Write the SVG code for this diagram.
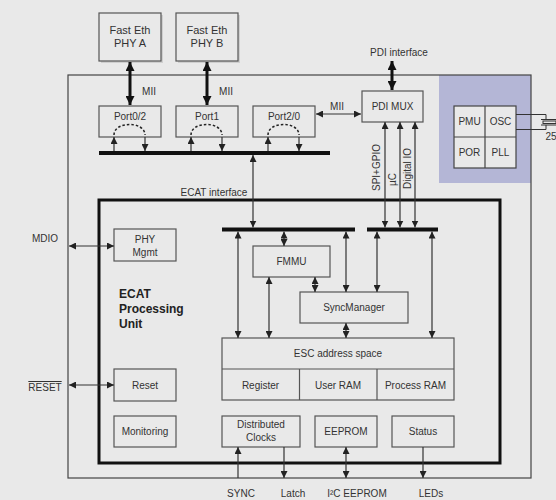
<svg xmlns="http://www.w3.org/2000/svg" width="556" height="500" viewBox="0 0 556 500">
<defs>
<marker id="ah" viewBox="0 0 10 10" refX="10" refY="5" markerWidth="7" markerHeight="7" markerUnits="userSpaceOnUse" orient="auto-start-reverse"><path d="M0,0 L10,5 L0,10 z" fill="#222"/></marker>
<marker id="ahb" viewBox="0 0 10 10" refX="10" refY="5" markerWidth="9" markerHeight="9" markerUnits="userSpaceOnUse" orient="auto-start-reverse"><path d="M0,0 L10,5 L0,10 z" fill="#111"/></marker>
<style>
text{font-family:"Liberation Sans",Arial,sans-serif;font-size:10px;fill:#333;text-anchor:middle}
.big{font-size:11px}
.bold{font-weight:bold;font-size:12px;fill:#222;text-anchor:start}
.box{fill:#e9e9e9;stroke:#555;stroke-width:1.2}
.ln{stroke:#333;stroke-width:1.2;fill:none}
.bi{marker-start:url(#ah);marker-end:url(#ah)}
.one{marker-end:url(#ah)}
.thick{stroke:#111;stroke-width:3;fill:none;marker-start:url(#ahb);marker-end:url(#ahb)}
.bus{stroke:#111;stroke-width:4}
.dash{stroke:#222;stroke-width:1.5;stroke-dasharray:2.5,2;fill:none}
.vt{text-anchor:start}
</style>
</defs>
<rect width="556" height="500" fill="#e9e9e9"/>
<rect x="439" y="75" width="92" height="108" fill="#b4b6d6"/>
<rect id="chip" x="68" y="75" width="463" height="403" fill="none" stroke="#444" stroke-width="1.2"/>
<rect id="ecat" x="99" y="200" width="401" height="263" fill="none" stroke="#111" stroke-width="3"/>

<g id="phyA"><rect x="101" y="15" width="62" height="48" fill="#cfcfcf"/><rect class="box" x="99" y="13" width="62" height="48" fill="#ececec"/><text class="big" x="130" y="34">Fast Eth</text><text class="big" x="130" y="47">PHY A</text></g>
<g id="phyB"><rect x="178" y="15" width="62" height="48" fill="#cfcfcf"/><rect class="box" x="176" y="13" width="62" height="48"/><text class="big" x="207" y="34">Fast Eth</text><text class="big" x="207" y="47">PHY B</text></g>

<g id="port02"><rect class="box" x="99" y="106" width="62" height="31"/><text x="130" y="120">Port0/2</text></g>
<g id="port1"><rect class="box" x="176" y="106" width="62" height="31"/><text x="207" y="120">Port1</text></g>
<g id="port20"><rect class="box" x="253" y="106" width="62" height="31"/><text x="284" y="120">Port2/0</text></g>
<g id="pdimux"><rect class="box" x="362" y="91" width="61" height="31"/><text x="392.5" y="110">PDI MUX</text></g>

<g id="clk"><rect x="454" y="106" width="62" height="62" fill="#e9e9e9" stroke="#444" stroke-width="1.2"/><line x1="485" y1="106" x2="485" y2="168" stroke="#444" stroke-width="1.2"/><line x1="454" y1="137" x2="516" y2="137" stroke="#444" stroke-width="1.2"/><text x="469.5" y="125">PMU</text><text x="500.5" y="125">OSC</text><text x="469.5" y="156">POR</text><text x="500.5" y="156">PLL</text></g>
<g id="xtal" stroke="#333" stroke-width="1" fill="none"><path d="M516,114.5 H546 V119.5"/><path d="M516,129.5 H546 V125"/><line x1="541" y1="119.5" x2="556" y2="119.5"/><line x1="541" y1="125" x2="556" y2="125"/><rect x="543" y="121" width="13" height="2.5"/></g>
<text x="551" y="140" style="text-anchor:middle">25</text>

<g id="phymgmt"><rect class="box" x="114" y="229" width="62" height="32"/><text x="145" y="243">PHY</text><text x="145" y="256">Mgmt</text></g>
<g id="ecatlabel"><text class="bold" x="119" y="298">ECAT</text><text class="bold" x="119" y="313">Processing</text><text class="bold" x="119" y="328">Unit</text></g>
<g id="fmmu"><rect class="box" x="253" y="246" width="77" height="31"/><text x="291.5" y="265">FMMU</text></g>
<g id="syncmgr"><rect class="box" x="300" y="292" width="108" height="31"/><text x="354" y="311">SyncManager</text></g>
<g id="esc"><rect class="box" x="222" y="338" width="232" height="62"/><line x1="222" y1="369" x2="454" y2="369" stroke="#555" stroke-width="1.2"/><line x1="299.5" y1="369" x2="299.5" y2="400" stroke="#555" stroke-width="1.2"/><line x1="377" y1="369" x2="377" y2="400" stroke="#555" stroke-width="1.2"/><text x="338" y="357">ESC address space</text><text x="260.5" y="388.5">Register</text><text x="338" y="388.5">User RAM</text><text x="415.5" y="388.5">Process RAM</text></g>
<g id="reset"><rect class="box" x="114" y="369" width="62" height="32"/><text x="145" y="388.5">Reset</text></g>
<g id="monitoring"><rect class="box" x="114" y="416" width="62" height="31"/><text x="145" y="435">Monitoring</text></g>
<g id="dc"><rect class="box" x="222" y="416" width="78" height="31"/><text x="261" y="428">Distributed</text><text x="261" y="441">Clocks</text></g>
<g id="eeprom"><rect class="box" x="315" y="416" width="62" height="31"/><text x="346" y="435">EEPROM</text></g>
<g id="status"><rect class="box" x="392" y="416" width="62" height="31"/><text x="423" y="435">Status</text></g>

<g id="connectors">
<line class="bus" x1="99" y1="153" x2="330" y2="153"/>
<line class="bus" x1="222" y1="229.5" x2="355" y2="229.5"/>
<line class="bus" x1="367" y1="229.5" x2="438" y2="229.5"/>
<line class="thick" x1="130" y1="62" x2="130" y2="105"/>
<line class="thick" x1="207" y1="62" x2="207" y2="105"/>
<line class="thick" x1="392" y1="61" x2="392" y2="90"/>
<line class="ln bi" x1="316" y1="114" x2="361" y2="114"/>
<line class="ln one" x1="114" y1="151" x2="114" y2="137"/>
<line class="ln one" x1="145" y1="137" x2="145" y2="151"/>
<line class="ln one" x1="191" y1="151" x2="191" y2="137"/>
<line class="ln one" x1="222" y1="137" x2="222" y2="151"/>
<line class="ln one" x1="268" y1="151" x2="268" y2="137"/>
<line class="ln one" x1="299" y1="137" x2="299" y2="151"/>
<path class="dash" d="M114,135 C114,121 145,121 145,135"/>
<path class="dash" d="M191,135 C191,121 222,121 222,135"/>
<path class="dash" d="M268,135 C268,121 299,121 299,135"/>
<line class="ln bi" x1="253" y1="155" x2="253" y2="227.5"/>
<line class="ln bi" x1="385" y1="122" x2="385" y2="227.5"/>
<line class="ln bi" x1="400" y1="122" x2="400" y2="227.5"/>
<line class="ln bi" x1="415" y1="122" x2="415" y2="227.5"/>
<line class="ln bi" x1="69" y1="246" x2="114" y2="246"/>
<line class="ln bi" x1="69" y1="385" x2="114" y2="385"/>
<line class="ln bi" x1="238" y1="231.5" x2="238" y2="338"/>
<line class="ln bi" x1="284" y1="231.5" x2="284" y2="246"/>
<line class="ln bi" x1="269" y1="277" x2="269" y2="338"/>
<line class="ln bi" x1="315" y1="277" x2="315" y2="292"/>
<line class="ln bi" x1="346" y1="231.5" x2="346" y2="292"/>
<line class="ln bi" x1="377" y1="231.5" x2="377" y2="292"/>
<line class="ln bi" x1="346" y1="323" x2="346" y2="338"/>
<line class="ln bi" x1="432" y1="231.5" x2="432" y2="338"/>
<line class="ln one" x1="238" y1="478" x2="238" y2="447"/>
<line class="ln one" x1="284" y1="447" x2="284" y2="478"/>
<line class="ln bi" x1="346" y1="447" x2="346" y2="478"/>
<line class="ln one" x1="423" y1="447" x2="423" y2="478"/>
</g>

<g id="labels">
<text x="399" y="55.5">PDI interface</text>
<text x="149" y="95">MII</text>
<text x="226" y="95">MII</text>
<text x="337" y="109.5">MII</text>
<text x="214" y="195.5">ECAT interface</text>
<text class="vt" transform="translate(380,191) rotate(-90)">SPI+GPIO</text>
<text class="vt" transform="translate(395.5,186) rotate(-90)">µC</text>
<text class="vt" transform="translate(411,189) rotate(-90)">Digital IO</text>
<text x="45" y="241.5">MDIO</text>
<text x="45" y="391" text-decoration="overline">RESET</text>
<text x="241" y="497">SYNC</text>
<text x="293" y="497">Latch</text>
<text x="357" y="497">I²C EEPROM</text>
<text x="431" y="497">LEDs</text>
</g>
</svg>
